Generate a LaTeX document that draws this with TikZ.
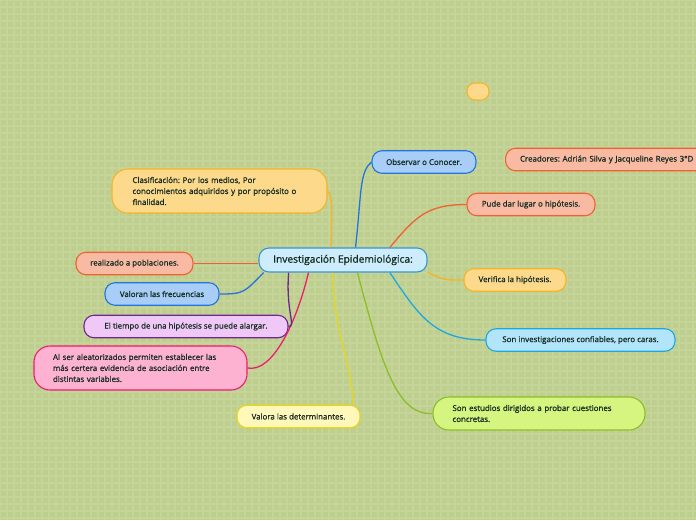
\documentclass[tikz,border=0pt]{standalone}
\usepackage{fontspec}
\setmainfont{Open Sans}[FakeBold=0.9]
\usetikzlibrary{positioning}
\frenchspacing
\definecolor{paper}{RGB}{190,207,141}
\definecolor{inktext}{RGB}{22,44,34}
\definecolor{centfl}{RGB}{206,237,252}
\definecolor{centln}{RGB}{58,148,210}
\definecolor{bluefl}{RGB}{168,206,248}
\definecolor{blueln}{RGB}{36,116,220}
\definecolor{salmfl}{RGB}{248,186,162}
\definecolor{salmln}{RGB}{240,98,50}
\definecolor{orngfl}{RGB}{253,217,140}
\definecolor{orngln}{RGB}{246,180,38}
\definecolor{cyanfl}{RGB}{178,228,250}
\definecolor{cyanln}{RGB}{30,168,225}
\definecolor{limefl}{RGB}{214,245,128}
\definecolor{limeln}{RGB}{140,190,40}
\definecolor{yellfl}{RGB}{255,248,186}
\definecolor{yellln}{RGB}{232,214,30}
\definecolor{pinkfl}{RGB}{253,178,210}
\definecolor{pinkln}{RGB}{236,30,110}
\definecolor{purpfl}{RGB}{240,200,248}
\definecolor{purpln}{RGB}{108,40,140}

\begin{document}
\begin{tikzpicture}[x=1pt,y=-1pt,
  every node/.style={font=\fontsize{7.9}{11}\selectfont,text=inktext},
  topic/.style={rounded corners=10pt,line width=1.1pt,inner sep=0pt,align=center,
                minimum height=22.5pt},
  longtopic/.style={rounded corners=16pt,line width=1.1pt,inner ysep=0pt,inner xsep=20pt,
                align=left},
  central/.style={topic,draw=centln,fill=centfl,minimum width=168pt,minimum height=24pt,
                font=\fontsize{10.2}{12}\selectfont},
  bluebox/.style={topic,draw=blueln,fill=bluefl},
  salmbox/.style={topic,draw=salmln,fill=salmfl},
  orngbox/.style={topic,draw=orngln,fill=orngfl},
  cyanbox/.style={topic,draw=cyanln,fill=cyanfl},
  yellbox/.style={topic,draw=yellln,fill=yellfl},
  purpbox/.style={topic,draw=purpln,fill=purpfl},
  link/.style={line width=1.3pt}]

\useasboundingbox (0,0) rectangle (696,520);
\fill[paper] (0,0) rectangle (696,520);
\draw[white,opacity=0.12,line width=1.5pt] (0,0) grid[step=7pt] (696,520);

% the middle of the map
\node[central] (cen) at (343,260) {Investigación Epidemiológica:};

% right hand side
\node[bluebox,minimum width=104pt] (obs) at (424,162) {Observar o Conocer.};
\node[salmbox,anchor=west,inner xsep=13pt,minimum width=205pt,text width=176pt,align=left]
  (cre) at (505,159.5) {Creadores: Adrián Silva y Jacqueline Reyes 3°D};
\node[salmbox,minimum width=128pt] (pude) at (531,204.5) {Pude dar lugar o hipótesis.};
\node[orngbox,minimum width=102pt] (ver) at (515,280) {Verifica la hipótesis.};
\node[cyanbox,minimum width=189pt] (conf) at (580.5,340) {Son investigaciones confiables, pero caras.};
\node[longtopic,draw=limeln,fill=limefl,text width=173pt,minimum height=33pt,inner xsep=19.5pt]
  (estu) at (539,413.5) {Son estudios dirigidos a probar cuestiones\\concretas.};
\node[topic,draw=orngln,fill=orngfl,minimum width=22pt,minimum height=17pt,rounded corners=8pt]
  (blob) at (478,91.5) {};

% left hand side
\node[longtopic,draw=orngln,fill=orngfl,text width=174pt,minimum height=44pt,inner xsep=20.5pt]
  (clas) at (219.5,191) {Clasificación: Por los medios, Por\\conocimientos adquiridos y por propósito o\\finalidad.};
\node[salmbox,minimum width=117pt] (real) at (134.5,263.5) {realizado a poblaciones.};
\node[bluebox,minimum width=114pt] (frec) at (162,294) {Valoran las frecuencias};
\node[purpbox,minimum width=204pt] (tiem) at (186,326.5) {El tiempo de una hipótesis se puede alargar.};
\node[longtopic,draw=pinkln,fill=pinkfl,text width=175pt,minimum height=44pt,inner xsep=19pt]
  (alea) at (140.5,368) {Al ser aleatorizados permiten establecer las\\más certera evidencia de asociación entre\\distintas variables.};
\node[yellbox,minimum width=123pt] (deter) at (298.5,416.5) {Valora las determinantes.};

% branches
\draw[link,blueln] (cen.45) .. controls +(6,-55) and +(-12,10) .. (obs.west);
\draw[link,salmln] (cen.15) .. controls +(25,-30) and +(-40,0) .. (pude.west);
\draw[link,orngln] (cen.-8) .. controls +(15,8) and +(-20,0) .. (ver.west);
\draw[link,cyanln] (cen.-15) .. controls +(30,45) and +(-50,0) .. (conf.west);
\draw[link,limeln] (cen.-41) .. controls +(25,95) and +(-35,2) .. (estu.west);
\draw[link,yellln] (cen.230) .. controls +(2,60) and +(-5,-50) .. (deter.12);
\draw[link,pinkln] (cen.200) .. controls +(-12,50) and +(25,5) .. (alea.east);
\draw[link,purpln] (cen.193.5) .. controls +(-3,40) and +(8,0) .. (tiem.east);
\draw[link,blueln] (cen.189) .. controls +(-20,20) and +(25,0) .. (frec.east);
\draw[link,salmln] (real.east) -- (real.east -| cen.west);
\draw[link,orngln] (clas.east) .. controls +(6,4) and +(0,-30) .. (cen.133);
\end{tikzpicture}
\end{document}
